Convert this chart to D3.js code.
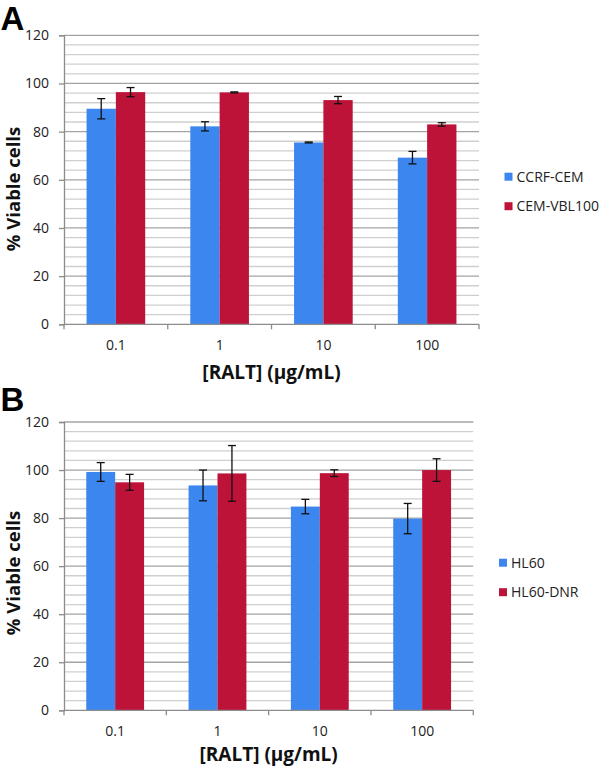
<!DOCTYPE html>
<html>
<head>
<meta charset="utf-8">
<script src="https://cdn.jsdelivr.net/npm/d3@7/dist/d3.min.js"></script>
<style>
  html, body { margin: 0; padding: 0; background: #fff; }
  svg { display: block; font-family: "Open Sans", "DejaVu Sans", sans-serif; }
</style>
</head>
<body>
<svg id="chart" width="600" height="769"></svg>
<script>
// ---------- data ----------
const categories = ["0.1", "1", "10", "100"];
const yTickValues = [0, 20, 40, 60, 80, 100, 120];
const xAxisTitle = "[RALT] (\u00b5g/mL)";
const yAxisTitle = "% Viable cells";

const seriesNamesA = ["CCRF-CEM", "CEM-VBL100"];
const ccrfValues = [89.5, 82.2, 75.5, 69.2];
const ccrfErrors = [4.2, 1.9, 0.2, 2.6];
const vblValues = [96.4, 96.3, 93.1, 83.0];
const vblErrors = [1.9, 0.2, 1.5, 0.7];

const seriesNamesB = ["HL60", "HL60-DNR"];
const hl60Values = [99.2, 93.6, 84.8, 79.8];
const hl60Errors = [3.9, 6.4, 3.0, 6.3];
const dnrValues = [94.9, 98.6, 98.7, 100.0];
const dnrErrors = [3.3, 11.6, 1.4, 4.7];

const colors = ["#3C87EF", "#BE1339"];

// ---------- drawing ----------
const svg = d3.select("#chart");

function drawPanel(opts) {
  const g = svg.append("g");
  const x = d3.scaleBand().domain(categories).range([opts.x0, opts.x1]).paddingInner(0).paddingOuter(0);
  const y = d3.scaleLinear().domain([0, 120]).range([opts.yBottom, opts.yTop]);

  // gridlines
  const minor = d3.range(0, 121, 4).filter(v => v % 20 !== 0);
  g.append("g").selectAll("line").data(minor).join("line")
    .attr("x1", opts.x0).attr("x2", opts.x1)
    .attr("y1", d => y(d)).attr("y2", d => y(d))
    .attr("stroke", "#cfcfcf").attr("stroke-width", 1.3);
  g.append("g").selectAll("line").data(yTickValues.filter(v => v > 0)).join("line")
    .attr("x1", opts.x0).attr("x2", opts.x1)
    .attr("y1", d => y(d)).attr("y2", d => y(d))
    .attr("stroke", "#a3a3a3").attr("stroke-width", 1.3);

  // bars
  const bw = x.bandwidth() * 0.2826;
  const off = (x.bandwidth() - 2 * bw) / 2;
  const series = opts.series.map((s, i) => ({
    name: s.name, color: colors[i],
    points: categories.map((c, j) => ({ cat: c, v: s.values[j], e: s.errors[j], i }))
  }));
  series.forEach((s, i) => {
    g.append("g").selectAll("rect").data(s.points).join("rect")
      .attr("x", d => x(d.cat) + off + i * bw)
      .attr("y", d => y(d.v))
      .attr("width", bw)
      .attr("height", d => y(0) - y(d.v))
      .attr("fill", s.color);
  });

  // axes
  const yAxis = d3.axisLeft(y).tickValues(yTickValues).tickSize(5).tickPadding(10);
  const ya = g.append("g").attr("transform", `translate(${opts.x0},0)`).call(yAxis);
  ya.select(".domain").attr("stroke", "#8c8c8c").attr("stroke-width", 1.3);
  ya.selectAll(".tick line").attr("stroke", "#8c8c8c").attr("stroke-width", 1.3);
  ya.selectAll(".tick text").attr("font-size", 14).attr("fill", "#222")
    .attr("font-family", "'Open Sans', sans-serif");

  const xAxis = d3.axisBottom(x).tickSize(0).tickPadding(0);
  const xa = g.append("g").attr("transform", `translate(0,${opts.yBottom})`).call(xAxis);
  xa.select(".domain").remove();
  xa.selectAll(".tick text").attr("font-size", 14).attr("fill", "#222")
    .attr("y", 26).attr("dy", null).attr("font-family", "'Open Sans', sans-serif");
  g.append("line")
    .attr("x1", opts.x0).attr("x2", opts.x1)
    .attr("y1", opts.yBottom).attr("y2", opts.yBottom)
    .attr("stroke", "#8c8c8c").attr("stroke-width", 1.3);
  const bounds = categories.map(c => x(c)).concat([opts.x1]);
  g.append("g").selectAll("line").data(bounds).join("line")
    .attr("x1", d => d).attr("x2", d => d)
    .attr("y1", opts.yBottom).attr("y2", opts.yBottom + 5)
    .attr("stroke", "#8c8c8c").attr("stroke-width", 1.3);

  // error bars
  series.forEach((s, i) => {
    const eg = g.append("g").attr("stroke", "#111").attr("stroke-width", 1.3);
    s.points.forEach(d => {
      const cx = x(d.cat) + off + i * bw + bw / 2;
      eg.append("line").attr("x1", cx).attr("x2", cx).attr("y1", y(d.v + d.e)).attr("y2", y(d.v - d.e));
      eg.append("line").attr("x1", cx - 4).attr("x2", cx + 4).attr("y1", y(d.v + d.e)).attr("y2", y(d.v + d.e));
      eg.append("line").attr("x1", cx - 4).attr("x2", cx + 4).attr("y1", y(d.v - d.e)).attr("y2", y(d.v - d.e));
    });
  });

  // titles
  g.append("text").text(xAxisTitle)
    .attr("x", (opts.x0 + opts.x1) / 2).attr("y", opts.xTitleBaseline)
    .attr("text-anchor", "middle").attr("font-weight", "bold").attr("font-size", 19).attr("fill", "#111");
  g.append("text").text(yAxisTitle)
    .attr("transform", `translate(19.5,${opts.yTitleCenter}) rotate(-90)`)
    .attr("text-anchor", "middle").attr("font-weight", "bold").attr("font-size", 18.5).attr("fill", "#111");

  // panel letter
  g.append("text").text(opts.letter)
    .attr("x", 0.5).attr("y", opts.letterBaseline)
    .attr("font-family", "'Liberation Sans', Arial, sans-serif")
    .attr("font-weight", "bold").attr("font-size", 33).attr("fill", "#000");

  // legend
  const lg = g.append("g");
  series.forEach((s, i) => {
    const cy = opts.legendY + i * 29.5;
    lg.append("rect").attr("x", opts.legendX).attr("y", cy - 4).attr("width", 8).attr("height", 8).attr("fill", s.color);
    lg.append("text").text(s.name).attr("x", opts.legendX + 12).attr("y", cy + 5)
      .attr("font-size", 14).attr("fill", "#222");
  });
}

drawPanel({
  letter: "A", letterBaseline: 30,
  x0: 64, x1: 479, yTop: 35.3, yBottom: 324.3, yTitleCenter: 189, xTitleBaseline: 378.5,
  legendX: 504.5, legendY: 176.7,
  series: [
    { name: seriesNamesA[0], values: ccrfValues, errors: ccrfErrors },
    { name: seriesNamesA[1], values: vblValues, errors: vblErrors }
  ]
});

drawPanel({
  letter: "B", letterBaseline: 411,
  x0: 64, x1: 473.3, yTop: 422, yBottom: 710.3, yTitleCenter: 573, xTitleBaseline: 761,
  legendX: 499, legendY: 562.7,
  series: [
    { name: seriesNamesB[0], values: hl60Values, errors: hl60Errors },
    { name: seriesNamesB[1], values: dnrValues, errors: dnrErrors }
  ]
});
</script>
</body>
</html>
